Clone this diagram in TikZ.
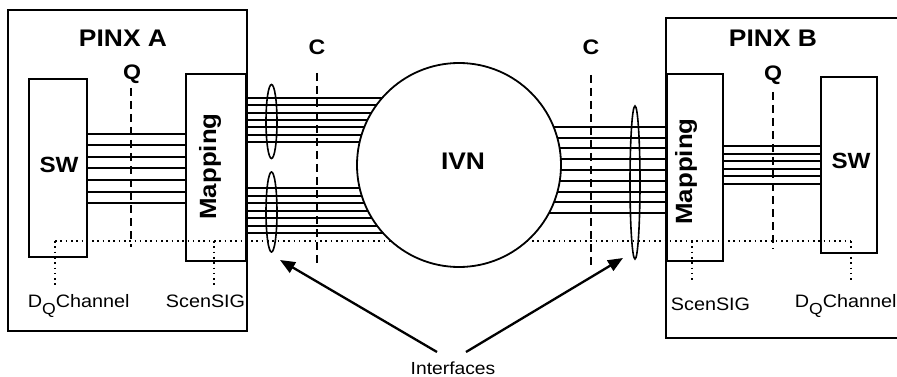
\documentclass[tikz,border=0pt]{standalone}
\usepackage{fontspec}
\setmainfont{Liberation Sans}[FakeStretch=1.1]
\usetikzlibrary{arrows.meta,shapes.geometric}
\begin{document}
\begin{tikzpicture}[x=1pt,y=-1pt,line width=1.8pt,
  box/.style={draw,inner sep=0pt,outer sep=0pt,anchor=north west},
  wire/.style={line width=2pt},
  qline/.style={line width=1.7pt,dash pattern=on 8pt off 5pt},
  dotline/.style={line width=1.6pt,dash pattern=on 1.6pt off 3.7pt},
  ifc/.style={draw,ellipse,inner sep=0pt,outer sep=0pt,line width=1.6pt},
  big/.style={font=\fontsize{24}{26}\selectfont\bfseries,inner sep=0pt,anchor=base},
  mid/.style={font=\fontsize{21}{23}\selectfont\bfseries,inner sep=0pt,anchor=base},
  sw/.style={font=\fontsize{22}{24}\selectfont\bfseries,inner sep=0pt,anchor=base},
  map/.style={font=\fontsize{23.5}{25}\selectfont\bfseries,inner sep=0pt,anchor=base,rotate=90},
  small/.style={font=\fontsize{18}{20}\selectfont,inner sep=0pt,anchor=base west},
  arr/.style={line width=2.3pt,-{Triangle[length=15pt,width=12pt]}}]
\useasboundingbox (0,0) rectangle (897,377);

% outer boxes
\node[box,minimum width=239pt,minimum height=321pt] (pinxA) at (8,10) {};
\node[box,minimum width=240pt,minimum height=320pt] (pinxB) at (666,18) {};
% inner boxes
\node[box,minimum width=58pt,minimum height=178pt] (swA) at (29,79) {};
\node[box,minimum width=60pt,minimum height=187pt] (mapA) at (186,74) {};
\node[box,minimum width=56pt,minimum height=187pt] (mapB) at (667,74) {};
\node[box,minimum width=56pt,minimum height=176pt] (swB) at (821,77) {};

% wires inside PINX A
\foreach \y in {134,145.5,...,203.5}
  \draw[wire] (swA.east |- 0,\y) -- (mapA.west |- 0,\y);
% wires inside PINX B
\foreach \y in {146,153.6,...,184.5}
  \draw[wire] (mapB.east |- 0,\y) -- (swB.west |- 0,\y);

% dotted signalling line
\coordinate (dqA) at (55,241);
\coordinate (dqB) at (851,241);
\draw[dotline] (dqA) -- (dqB);

% wires to the IVN (ends hidden under the circle)
\foreach \y in {98,105.33,...,142.5}
  \draw[wire] (mapA.east |- 0,\y) -- (459,\y);
\foreach \y in {188,195.5,...,233.5}
  \draw[wire] (mapA.east |- 0,\y) -- (459,\y);
\foreach \y in {127,137.75,...,213.5}
  \draw[wire] (459,\y) -- (mapB.west |- 0,\y);

% IVN
\node[circle,draw,fill=white,minimum size=204pt,inner sep=0pt] (ivn) at (459,165) {};
\node[big] (ivnl) at (463,170) {IVN};

% interface ellipses
\node[ifc,minimum width=11pt,minimum height=74pt] (ifA1) at (271.5,121.5) {};
\node[ifc,minimum width=11pt,minimum height=80pt] (ifA2) at (271.5,212) {};
\node[ifc,minimum width=10pt,minimum height=153pt] (ifB) at (635,182.5) {};

% labels
\node[big] (lpinxA) at (123,47) {PINX A};
\node[big] (lpinxB) at (773,47) {PINX B};
\node[mid] (qA) at (132,80) {Q};
\node[mid] (qB) at (773,81) {Q};
\node[mid] (cA) at (317,55) {C};
\node[mid] (cB) at (591,55) {C};
\node[sw] (lswA) at (59,172) {SW};
\node[sw] (lswB) at (851,168) {SW};
\node[map] (lmapA) at (216,166.5) {Mapping};
\node[map] (lmapB) at (692,171.5) {Mapping};

% Q and C reference lines
\coordinate (qAt) at (131,88);  \coordinate (qAb) at (131,247);
\coordinate (qBt) at (773,92);  \coordinate (qBb) at (773,249);
\coordinate (cAt) at (317,73);  \coordinate (cAb) at (317,265);
\coordinate (cBt) at (591,75);  \coordinate (cBb) at (591,267);
\draw[qline] (qAt) -- (qAb);
\draw[qline] (qBt) -- (qBb);
\draw[qline] (cAt) -- (cAb);
\draw[qline] (cBt) -- (cBb);

% small labels and their dotted leaders
\node[small] (dqlA) at (27,307) {D\raisebox{-7.5pt}{\fontsize{16}{16}\selectfont Q}Channel};
\node[small] (scA) at (165,307) {ScenSIG};
\node[small] (scB) at (670,310) {ScenSIG};
\node[small] (dqlB) at (794,307) {D\raisebox{-7.5pt}{\fontsize{16}{16}\selectfont Q}Channel};
\coordinate (scAt) at (214,241); \coordinate (scAb) at (214,288);
\coordinate (scBt) at (692,241); \coordinate (scBb) at (692,283);
\draw[dotline] (dqA) -- (55,288);
\draw[dotline] (scAt) -- (scAb);
\draw[dotline] (scBt) -- (scBb);
\draw[dotline] (dqB) -- (851,283);

% Interfaces
\node[font=\fontsize{17.5}{19}\selectfont,inner sep=0pt,anchor=base] (intf) at (453,374) {Interfaces};
\coordinate (tailA) at (437,352);
\coordinate (tailB) at (466,352);
\coordinate (tipA) at (280,260);
\coordinate (tipB) at (623,258);
\draw[arr] (tailA) -- (tipA);
\draw[arr] (tailB) -- (tipB);
\end{tikzpicture}
\end{document}
